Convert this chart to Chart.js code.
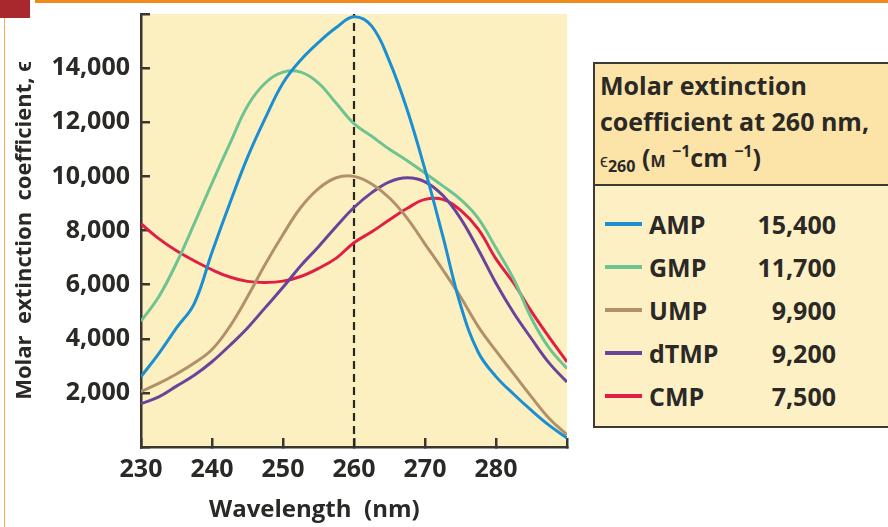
<!DOCTYPE html>
<html>
<head>
<meta charset="utf-8">
<script src="https://cdn.jsdelivr.net/npm/chart.js@4.4.0/dist/chart.umd.min.js"></script>
<style>
  html, body { margin: 0; padding: 0; background: #fff; }
  body { width: 888px; height: 527px; position: relative; overflow: hidden; font-family: "Open Sans", sans-serif; color: #2b2926; }
  #corner { position: absolute; left: 0; top: 0; width: 30px; height: 18px; background: #a8282e; }
  #topbar { position: absolute; left: 35px; top: 0; width: 853px; height: 3px; background: #f08a1c; }
  #edge { position: absolute; left: 4px; top: 18px; width: 1px; height: 509px; background: #f5a85c; }
  #wrap { position: absolute; left: 0; top: 0; width: 590px; height: 527px; }
  #xtitle { position: absolute; left: 209px; top: 492px; font-weight: 700; font-size: 24px; line-height: 32px; white-space: pre; }
  #key { position: absolute; left: 593px; top: 62px; width: 330px; height: 366px; box-sizing: border-box;
         border: 2.5px solid #3d3a33; background: #fdf0c4; }
  #keyhead { height: 122px; box-sizing: border-box; border-bottom: 2.5px solid #3d3a33; background: #fce4a8;
             padding: 3px 0 0 5px; font-weight: 700; font-size: 25px; line-height: 36px; }
  #keyhead .eps { font-weight: 400; font-size: 18px; }
  #keyhead sub { font-size: 16px; vertical-align: -5px; line-height: 0; }
  #keyhead sup { font-size: 16px; vertical-align: 10px; line-height: 0; }
  #keyhead .sc { font-size: 16px; font-weight: 700; }
  #keyrows { padding-top: 16px; }
  .row { display: flex; align-items: center; height: 43px; font-weight: 700; font-size: 25px; }
  .sw { margin-left: 10px; width: 37px; height: 4px; }
  .nm { margin-left: 7px; width: 100px; }
  .val { width: 87px; text-align: right; }
</style>
</head>
<body>
<div id="corner"></div>
<div id="topbar"></div>
<div id="edge"></div>
<div id="wrap"><canvas id="chart" width="590" height="527"></canvas></div>
<div id="xtitle">Wavelength  (nm)</div>
<div id="key">
  <div id="keyhead">Molar extinction<br>coefficient at 260 nm,<br><span class="eps">ϵ</span><sub>260</sub> (<span class="sc">M</span> <sup>−1</sup>cm <sup>−1</sup>)</div>
  <div id="keyrows"></div>
</div>
<script>
const wavelengths = [230, 232.5, 235, 237.5, 240, 242.5, 245, 247.5, 250, 252.5, 255, 257.5, 260,
                     262.5, 265, 267.5, 270, 272.5, 275, 277.5, 280, 282.5, 285, 287.5, 290];

const amp  = [2600, 3450, 4400, 5300, 7200, 9000, 10700, 12150, 13450, 14300, 14950, 15500, 15900,
              15550, 14250, 12450, 10250, 7800, 5250, 3500, 2600, 1950, 1350, 800, 330];
const gmp  = [4650, 5550, 6800, 8250, 9750, 11200, 12600, 13450, 13850, 13850, 13450, 12700, 11950,
              11480, 11000, 10580, 10120, 9650, 9150, 8450, 7350, 6200, 4750, 3650, 2900];
const ump  = [2050, 2350, 2700, 3100, 3600, 4450, 5550, 6750, 7850, 8850, 9550, 9950, 10000,
              9720, 9200, 8450, 7500, 6550, 5550, 4450, 3550, 2700, 1850, 1050, 450];
const dtmp = [1600, 1850, 2250, 2650, 3150, 3750, 4400, 5150, 5900, 6700, 7400, 8150, 8850,
              9400, 9800, 9950, 9800, 9300, 8450, 7300, 6050, 4950, 4000, 3100, 2400];
const cmp  = [8250, 7700, 7250, 6880, 6550, 6280, 6120, 6080, 6130, 6300, 6600, 6980, 7550,
              7950, 8400, 8820, 9150, 9150, 8750, 8050, 6950, 6050, 5000, 4050, 3150];

const names = ['AMP', 'GMP', 'UMP', 'dTMP', 'CMP'];
const eps260 = [15400, 11700, 9900, 9200, 7500];
const colors = ['#1b8fd2', '#6fc391', '#b2906a', '#6a449b', '#e11f43'];
const series = [amp, gmp, ump, dtmp, cmp];

const markerX = [260, 260];
const markerY = [0, 16000];

// legend box on the right
const rows = document.getElementById('keyrows');
names.forEach(function(n, i) {
  const r = document.createElement('div');
  r.className = 'row';
  r.innerHTML = '<div class="sw" style="background:' + colors[i] + '"></div>' +
                '<div class="nm">' + n + '</div>' +
                '<div class="val">' + eps260[i].toLocaleString('en-US') + '</div>';
  rows.appendChild(r);
});

const plotBg = {
  id: 'plotBg',
  beforeDraw(chart) {
    const a = chart.chartArea;
    const ctx = chart.ctx;
    ctx.save();
    ctx.fillStyle = '#fdf0c0';
    ctx.fillRect(a.left, a.top, a.right - a.left, a.bottom - a.top);
    ctx.restore();
  }
};

const datasets = series.map(function(s, i) {
  return {
    label: names[i],
    data: wavelengths.map(function(w, j) { return {x: w, y: s[j]}; }),
    borderColor: colors[i],
    borderWidth: 3,
    pointRadius: 0,
    tension: 0.4,
    fill: false
  };
});
datasets.push({
  label: '260 nm',
  data: markerX.map(function(x, j) { return {x: x, y: markerY[j]}; }),
  borderColor: '#2a2520',
  borderWidth: 2.2,
  borderDash: [8, 5],
  pointRadius: 0
});

const INK = '#3a3630';
const tickFont = {family: '"Open Sans", sans-serif', size: 25, weight: '700'};

function noEdgePadding(scale) {
  scale.paddingTop = 0;
  scale.paddingBottom = 0;
  scale.paddingLeft = 0;
  scale.paddingRight = 0;
}

new Chart(document.getElementById('chart'), {
  type: 'line',
  data: {datasets: datasets},
  options: {
    responsive: false,
    devicePixelRatio: 1,
    animation: false,
    layout: {padding: {left: 0, top: 14, right: 23, bottom: 0}},
    plugins: {legend: {display: false}, tooltip: {enabled: false}},
    scales: {
      x: {
        type: 'linear',
        min: 230,
        max: 290,
        border: {display: true, color: INK, width: 2.5},
        grid: {drawOnChartArea: false, drawTicks: true, tickLength: -9, color: INK, lineWidth: 2.5},
        ticks: {
          stepSize: 10,
          autoSkip: false,
          padding: 17,
          color: '#2b2926',
          font: tickFont,
          callback: function(v) { return v === 290 ? '' : v; }
        },
        afterFit: function(scale) { scale.height = 80; noEdgePadding(scale); }
      },
      y: {
        min: 0,
        max: 16000,
        border: {display: true, color: INK, width: 2.5},
        grid: {drawOnChartArea: false, drawTicks: true, tickLength: -9, color: INK, lineWidth: 2.5},
        ticks: {
          stepSize: 2000,
          autoSkip: false,
          padding: 20,
          color: '#2b2926',
          font: tickFont,
          callback: function(v) { return (v === 0 || v === 16000) ? '' : v.toLocaleString('en-US'); }
        },
        title: {
          display: true,
          text: 'Molar  extinction  coefficient, ϵ',
          color: '#2b2926',
          font: {family: '"Open Sans", sans-serif', size: 22, weight: '700'},
          padding: {top: 12, bottom: 0}
        },
        afterFit: function(scale) { scale.width = 141; noEdgePadding(scale); }
      }
    }
  },
  plugins: [plotBg]
});
</script>
</body>
</html>
